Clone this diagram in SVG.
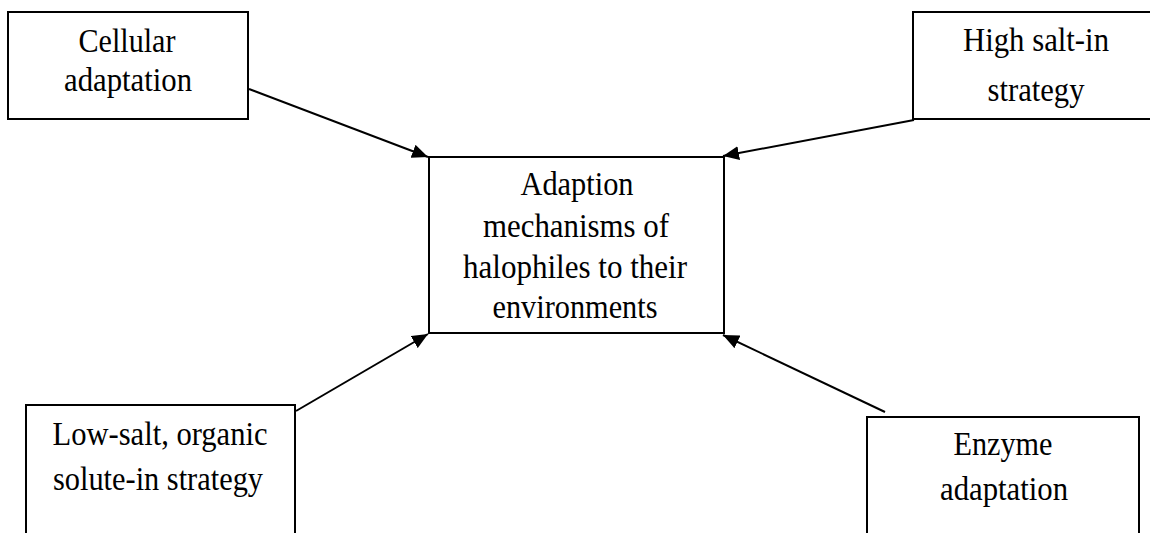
<svg xmlns="http://www.w3.org/2000/svg" width="1150" height="533" viewBox="0 0 1150 533">
<style>
.box{fill:#fff;stroke:#000;stroke-width:2}
.t{font-family:"Liberation Serif","Times New Roman",serif;font-size:33px;fill:#000;text-anchor:middle}
.c{stroke:#000;stroke-width:2;fill:none;marker-end:url(#ah)}
</style>
<defs>
<marker id="ah" markerUnits="userSpaceOnUse" markerWidth="18" markerHeight="14" refX="16" refY="7" orient="auto">
<path d="M0,0 L16,7 L0,14 Z" fill="#000"/>
</marker>
</defs>
<rect width="1150" height="533" fill="#fff"/>
<g id="connectors">
<line class="c" x1="249" y1="89" x2="428" y2="157"/>
<line class="c" x1="914" y1="120" x2="723" y2="156"/>
<line class="c" x1="296" y1="411" x2="428" y2="334"/>
<line class="c" x1="885" y1="412" x2="723" y2="335"/>
</g>
<g id="cellular">
<rect class="box" x="8" y="12" width="240" height="107"/>
<text class="t" x="127" y="52" textLength="97" lengthAdjust="spacingAndGlyphs">Cellular</text>
<text class="t" x="128" y="91" textLength="128" lengthAdjust="spacingAndGlyphs">adaptation</text>
</g>
<g id="highsalt">
<rect class="box" x="913" y="12" width="250" height="107"/>
<text class="t" x="1036" y="51" textLength="146" lengthAdjust="spacingAndGlyphs">High salt-in</text>
<text class="t" x="1036" y="101" textLength="97" lengthAdjust="spacingAndGlyphs">strategy</text>
</g>
<g id="center">
<rect class="box" x="429" y="157" width="295" height="176"/>
<text class="t" x="577" y="195" textLength="113" lengthAdjust="spacingAndGlyphs">Adaption</text>
<text class="t" x="576" y="237" textLength="186" lengthAdjust="spacingAndGlyphs">mechanisms of</text>
<text class="t" x="575" y="278" textLength="224" lengthAdjust="spacingAndGlyphs">halophiles to their</text>
<text class="t" x="575" y="318" textLength="165" lengthAdjust="spacingAndGlyphs">environments</text>
</g>
<g id="lowsalt">
<rect class="box" x="26" y="405" width="269" height="140"/>
<text class="t" x="160" y="445" textLength="215" lengthAdjust="spacingAndGlyphs">Low-salt, organic</text>
<text class="t" x="158" y="490" textLength="210" lengthAdjust="spacingAndGlyphs">solute-in strategy</text>
</g>
<g id="enzyme">
<rect class="box" x="867" y="417" width="272" height="130"/>
<text class="t" x="1003" y="455" textLength="99" lengthAdjust="spacingAndGlyphs">Enzyme</text>
<text class="t" x="1004" y="500" textLength="128" lengthAdjust="spacingAndGlyphs">adaptation</text>
</g>
</svg>
